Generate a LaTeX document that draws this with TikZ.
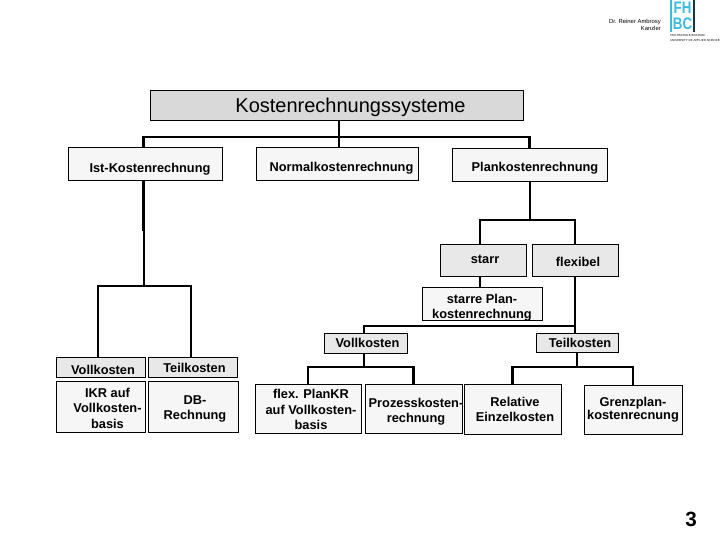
\documentclass[tikz,border=0pt]{standalone}
\usepackage{fontspec}
\setmainfont{Liberation Sans}
\usepackage{tikz}
\usetikzlibrary{positioning, calc}

\definecolor{headgray}{gray}{0.85}
\definecolor{midgray}{gray}{0.91}
\definecolor{lightgray}{gray}{0.965}
\definecolor{logocyan}{RGB}{60,185,225}

% Text im Kasten verschieben (dx, dy in Pixeln)
\newcommand{\ktext}[3]{\hspace*{#1\dimexpr1.5pt\relax}\makebox[0pt]{\raisebox{-#2\dimexpr.75pt\relax}[0pt][0pt]{\begin{tabular}{@{}c@{}}#3\end{tabular}}}}

\tikzset{
	kbox/.style={rectangle, draw, line width=0.6pt, inner sep=0pt, font=\bfseries\fontsize{9.6}{11.5}\selectfont, fill=lightgray},
	kgrey/.style={kbox, fill=midgray},
	bus/.style={line width=2.2pt},
	thinbus/.style={line width=1.5pt}
}

\begin{document}
\begin{tikzpicture}[x=0.75pt, y=-0.75pt]
	\useasboundingbox (0,0) rectangle (720,540);

	\node[kbox, fill=headgray, font=\fontsize{15}{17}\selectfont, minimum width=279.75pt, minimum height=23pt] (kr) at (336.5,105.5) {\ktext{14}{7}{Kostenrechnungssysteme}};

	\node[kbox, minimum width=115.5pt, minimum height=24.75pt] (ist) at (145,163.5) {\ktext{5}{9}{Ist-Kostenrechnung}};
	\node[kbox, minimum width=121.5pt, minimum height=24.75pt] (normal) at (337,163.5) {\ktext{4.5}{8}{Normalkostenrechnung}};
	\node[kbox, minimum width=116.25pt, minimum height=24.75pt] (plan) at (529.5,164.5) {\ktext{5.5}{7}{Plankostenrechnung}};

	\node[kgrey, minimum width=64.5pt, minimum height=24pt] (starr) at (483,260) {\ktext{2}{4}{starr}};
	\node[kgrey, minimum width=64.5pt, minimum height=24pt] (flex) at (575,260) {\ktext{3}{7}{flexibel}};
	\node[kbox, minimum width=90pt, minimum height=24.75pt] (starre) at (482,303.5) {\ktext{0}{8}{starre Plan-\\kostenrechnung}};

	\node[kgrey, minimum width=62.25pt, minimum height=15pt] (voll) at (365.5,343) {\ktext{2}{5}{Vollkosten}};
	\node[kgrey, minimum width=61.5pt, minimum height=14.25pt] (teil) at (577,342.5) {\ktext{3}{5}{Teilkosten}};

	\node[kgrey, minimum width=66.75pt, minimum height=15pt] (ivoll) at (100.5,367) {\ktext{2.5}{8}{Vollkosten}};
	\node[kgrey, minimum width=66.75pt, minimum height=15pt] (iteil) at (192.5,367) {\ktext{2}{5.5}{Teilkosten}};
	\node[kbox, minimum width=66.75pt, minimum height=38.25pt] (ikr) at (100.5,406.5) {\ktext{7}{6.5}{IKR auf\\Vollkosten-\\basis}};
	\node[kbox, minimum width=67.5pt, minimum height=38.25pt] (db) at (193,406.5) {\ktext{2}{5.5}{DB-\\Rechnung}};

	\node[kbox, minimum width=79.5pt, minimum height=36.75pt] (flexplan) at (308,408.5) {\ktext{3}{6}{flex. PlanKR\\auf Vollkosten-\\basis}};
	\node[kbox, minimum width=72.75pt, minimum height=36.75pt] (prozess) at (413.5,408.5) {\ktext{2.5}{6.5}{Prozesskosten-\\rechnung}};
	\node[kbox, minimum width=72.75pt, minimum height=37.5pt] (relativ) at (512.5,409) {\ktext{2.5}{5.5}{Relative\\Einzelkosten}};
	\node[kbox, minimum width=73.5pt, minimum height=36.75pt] (grenz) at (633,409.5) {\ktext{0}{4}{Grenzplan-\\[-1.5pt]kostenrecnung}};

	\coordinate (topbus) at (0,137);
	\coordinate (istbus) at (0,286);
	\coordinate (planbus) at (0,220);
	\coordinate (starrebus) at (0,325.5);
	\coordinate (vollbus) at (0,367);
	\coordinate (thin) at (143.5,231);
	\coordinate (krx) at (339,0);
	\coordinate (istx) at (143.5,0);
	\coordinate (ivollx) at (98,0);
	\coordinate (iteilx) at (191,0);
	\coordinate (starrx) at (480,0);
	\coordinate (vollx) at (364,0);

	% oberste Ebene
	\draw[bus] (krx |- kr.south) -- (krx |- normal.north);
	\draw[bus] (istx |- ist.north) -- (istx |- topbus) -- (plan |- topbus) -- (plan.north);

	% Ist
	\draw[line width=2.6pt] (istx |- ist.south) -- (istx |- thin);
	\draw[thinbus] (istx |- thin) -- (istx |- istbus);
	\draw[bus] (ivollx |- ivoll.north) -- (ivollx |- istbus) -- (iteilx |- istbus) -- (iteilx |- iteil.north);

	% Plan
	\draw[thinbus] (plan.south) -- (plan |- planbus);
	\draw[bus] (starrx |- starr.north) -- (starrx |- planbus) -- (flex |- planbus) -- (flex.north);
	\draw[thinbus] (starrx |- starr.south) -- (starrx |- starre.north);
	\draw[thinbus] (flex.south) -- (flex |- teil.north);
	\draw[thinbus] (vollx |- voll.north) -- (vollx |- starrebus) -- (flex |- starrebus);

	\draw[thinbus] (vollx |- voll.south) -- (vollx |- vollbus);
	\draw[bus] (flexplan.north) -- (flexplan |- vollbus) -- (prozess.north |- vollbus) -- (prozess.north);
	\draw[thinbus] (teil.south) -- (teil |- vollbus);
	\draw[bus] (relativ.north) -- (relativ |- vollbus) -- (grenz |- vollbus) -- (grenz.north);

	% Kopf
	\node[align=right, anchor=north east, inner sep=0pt, font=\fontsize{4.4}{5.6}\selectfont] (autor) at (661,18.5) {Dr. Reiner Ambrosy\\Kanzler};
	\node[anchor=center, inner sep=0pt, text=logocyan, xscale=0.8, font=\bfseries\fontsize{12.5}{11.5}\selectfont, align=center] (logo) at (682.5,16) {FH\\BC};
	\draw[logocyan, line width=1.2pt] (671,0) -- (671,32);
	\draw[black!70!logocyan, line width=0.9pt] (694,0) -- (694,32);
	\node[anchor=north west, inner sep=0pt, font=\fontsize{2.2}{3.4}\selectfont, align=left] (hochschule) at (670,34.5) {HOCHSCHULE BOCHUM\\UNIVERSITY OF APPLIED SCIENCES};
	\node[inner sep=0pt, font=\bfseries\fontsize{15.5}{17}\selectfont] (seite) at (691,519.5) {3};
\end{tikzpicture}
\end{document}
